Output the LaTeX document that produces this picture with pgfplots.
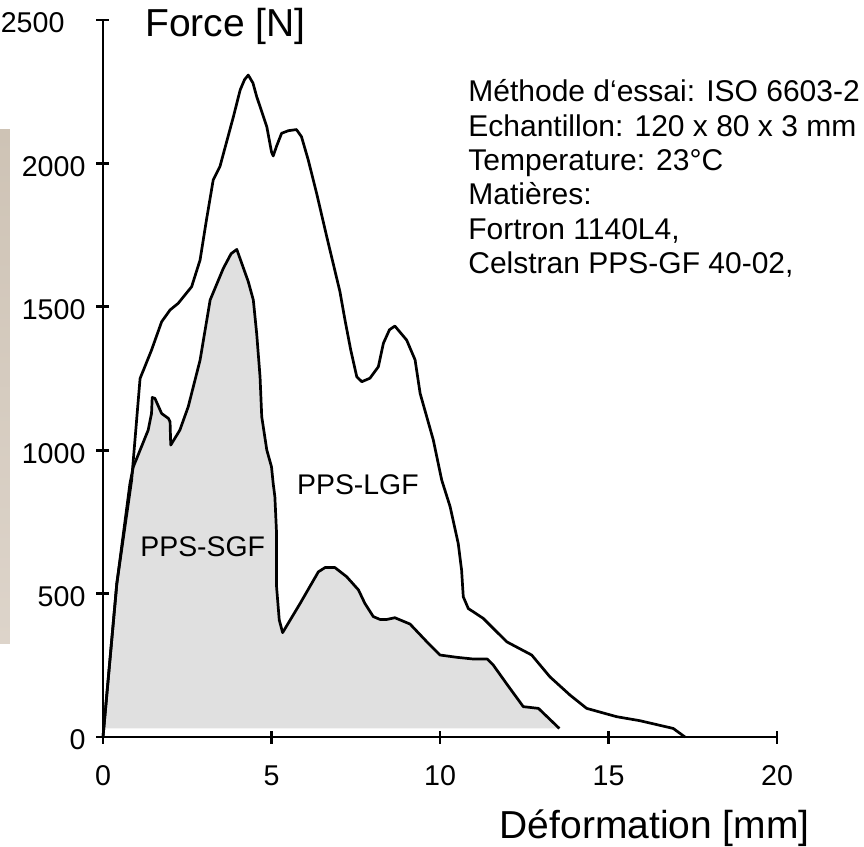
\documentclass[border=0pt]{standalone}
\usepackage{fontspec}
\setmainfont{Liberation Sans}
\usepackage{pgfplots}
\pgfplotsset{compat=1.18}
\definecolor{sgffill}{RGB}{224,224,224}
\definecolor{beigetop}{RGB}{206,195,181}
\definecolor{beigebot}{RGB}{221,212,202}
\begin{document}
\begin{tikzpicture}
\begin{axis}[
  scale only axis, width=337pt, height=358.5pt,
  xmin=0, xmax=20, ymin=0, ymax=2500,
  axis x line=bottom, axis y line=left,
  axis line style={-, line width=1.4pt, black},
  xtick={0,5,10,15,20}, ytick={0,500,1000,1500,2000},
  extra y ticks={2500},
  extra y tick style={yticklabel style={xshift=-10.5pt}},
  tick align=center, major tick length=6.5pt,
  every tick/.style={line width=1.4pt, black},
  scaled ticks=false,
  /pgf/number format/assume math mode=true,
  /pgf/number format/set thousands separator={},
  ticklabel style={font=\fontsize{14.3}{17}\selectfont},
  yticklabel style={xshift=-2pt, yshift=-1.5pt},
  xticklabel style={yshift=-7.5pt},
  clip=false,
]
% decorative strip at the left edge
\fill[top color=beigetop, bottom color=beigebot] (axis cs:-3.056,327.8) rectangle (axis cs:-2.76,2116.5);

% PPS-SGF filled area
\addplot[draw=none, fill=sgffill] coordinates {
(0.06,30) (0.41,535) (0.80,884) (0.90,942) (1.34,1070) (1.44,1128) (1.46,1184)
(1.54,1181) (1.74,1128) (1.94,1111) (1.99,1099) (2.01,1018) (2.28,1070) (2.53,1152)
(2.88,1314) (3.18,1524) (3.57,1634) (3.80,1685) (3.97,1700) (4.31,1588) (4.46,1524)
(4.56,1407) (4.66,1256) (4.71,1117) (4.86,1001) (5.0,942) (5.05,884) (5.1,838)
(5.15,710) (5.15,524) (5.23,408) (5.33,364) (5.85,466) (6.39,576) (6.59,591)
(6.88,591) (7.23,559) (7.58,513) (7.77,466) (8.02,420) (8.22,410) (8.42,410)
(8.66,416) (9.11,394) (9.61,332) (10.0,286) (10.5,278) (10.99,272) (11.4,272)
(11.58,251) (11.98,185) (12.47,106) (12.92,100) (13.54,30)
} -- cycle;

% PPS-SGF line
\addplot[black, line width=1.35pt, line join=round] coordinates {
(0,0) (0.41,535) (0.80,884) (0.90,942) (1.34,1070) (1.44,1128) (1.46,1184)
(1.54,1181) (1.74,1128) (1.94,1111) (1.99,1099) (2.01,1018) (2.28,1070) (2.53,1152)
(2.88,1314) (3.18,1524) (3.57,1634) (3.80,1685) (3.97,1700) (4.31,1588) (4.46,1524)
(4.56,1407) (4.66,1256) (4.71,1117) (4.86,1001) (5.0,942) (5.05,884) (5.1,838)
(5.15,710) (5.15,524) (5.23,408) (5.33,364) (5.85,466) (6.39,576) (6.59,591)
(6.88,591) (7.23,559) (7.58,513) (7.77,466) (8.02,420) (8.22,410) (8.42,410)
(8.66,416) (9.11,394) (9.61,332) (10.0,286) (10.5,278) (10.99,272) (11.4,272)
(11.58,251) (11.98,185) (12.47,106) (12.92,100) (13.54,30)
};

% PPS-LGF line
\addplot[black, line width=1.35pt, line join=round] coordinates {
(0,0) (0.41,535) (0.85,896) (1.1,1250) (1.44,1349) (1.74,1448) (1.99,1489)
(2.23,1512) (2.63,1570) (2.88,1663) (3.07,1803) (3.27,1942) (3.47,1989) (3.87,2163)
(4.07,2256) (4.2,2292) (4.31,2308) (4.45,2280) (4.56,2233) (4.86,2128) (5.0,2040)
(5.05,2026) (5.15,2060) (5.30,2105) (5.50,2114) (5.74,2118) (5.89,2093) (6.09,2012)
(6.34,1895) (6.64,1744) (7.03,1553) (7.18,1454) (7.35,1350) (7.53,1256) (7.68,1239)
(7.92,1251) (8.17,1291) (8.32,1373) (8.5,1420) (8.66,1433) (9.01,1384) (9.26,1315)
(9.41,1198) (9.80,1036) (10.05,896) (10.30,803) (10.54,675) (10.64,582) (10.69,489)
(10.84,448) (11.28,414) (11.98,332) (12.72,286) (13.26,210) (13.86,146) (14.35,100)
(15.24,71) (15.93,57) (16.92,30) (17.27,0)
};

% titles
\node[anchor=base west, inner sep=0pt, font=\fontsize{19.5}{22}\selectfont] at (axis cs:1.246,2442) {Force [N]};
\node[anchor=base east, inner sep=0pt, font=\fontsize{19.5}{22}\selectfont] at (axis cs:20.98,-352) {Déformation [mm]};

% curve labels
\node[anchor=base west, inner sep=0pt, font=\fontsize{14.2}{17}\selectfont] at (axis cs:1.098,629) {PPS-SGF};
\node[anchor=base west, inner sep=0pt, font=\fontsize{14.2}{17}\selectfont] at (axis cs:5.748,844) {PPS-LGF};

% annotation block
\begin{scope}[every node/.style={anchor=base west, inner sep=0pt, font=\fontsize{15}{18}\selectfont}]
\node at (axis cs:10.83,2215) {Méthode d‘essai: ISO 6603-2};
\node at (axis cs:10.83,2095) {Echantillon: 120 x 80 x 3 mm};
\node at (axis cs:10.83,1975) {Temperature: 23°C};
\node at (axis cs:10.83,1855) {Matières:};
\node at (axis cs:10.83,1735) {Fortron 1140L4,};
\node at (axis cs:10.83,1615) {Celstran PPS-GF 40-02,};
\end{scope}

\coordinate (bbl) at (axis cs:-3.056,-380.1);
\coordinate (btr) at (axis cs:22.58,2569.7);
\end{axis}
\pgfresetboundingbox
\useasboundingbox (bbl) rectangle (btr);
\end{tikzpicture}
\end{document}
